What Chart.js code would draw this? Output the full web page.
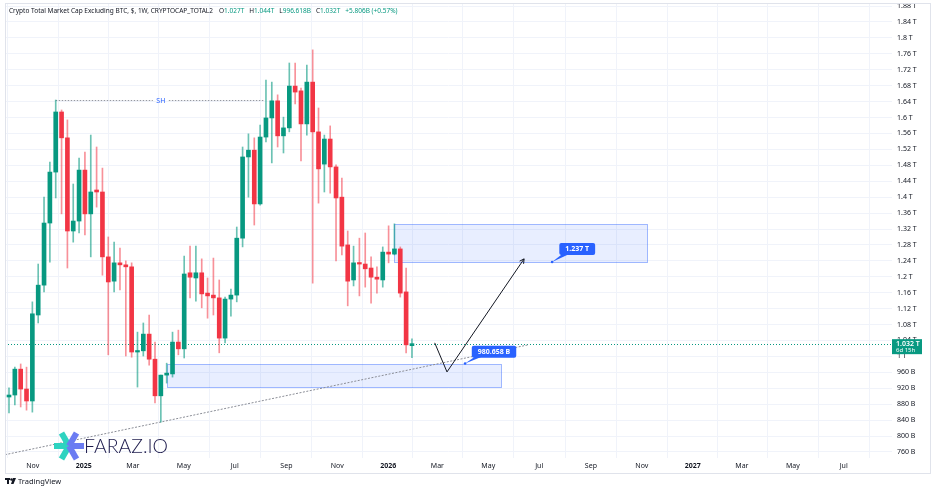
<!DOCTYPE html>
<html>
<head>
<meta charset="utf-8">
<title>TOTAL2 weekly</title>
<script src="https://cdn.jsdelivr.net/npm/chart.js@4.4.1/dist/chart.umd.min.js"></script>
<style>
  html, body { margin: 0; padding: 0; background: #fff; }
  #wrap { width: 936px; height: 492px; }
</style>
</head>
<body>
<div id="wrap"><canvas id="chart" width="936" height="492"></canvas></div>
<script>
// weekly candles, values in billions of USD, first bar = week of 2024-09-30
const firstWeek = '2024-09-30';
const opens = [898, 903, 968, 918, 888, 1104, 1179, 1335, 1463, 1614, 1549, 1315, 1340, 1468, 1358, 1418, 1413, 1250, 1189, 1235,
  1230, 1225, 1011, 1014, 1056, 993, 901, 953, 956, 1036, 1019, 1210, 1197, 1210, 1159, 1154, 1147, 1046, 1144, 1154,
  1297, 1501, 1518, 1383, 1551, 1599, 1642, 1554, 1574, 1679, 1667, 1584, 1689, 1564, 1483, 1546, 1476, 1400, 1280, 1192,
  1235, 1232, 1222, 1199, 1192, 1262, 1257, 1270, 1162, 1027];
const highs = [921, 973, 981, 973, 1137, 1232, 1400, 1488, 1644, 1619, 1594, 1433, 1498, 1513, 1556, 1526, 1473, 1300, 1287, 1272,
  1240, 1235, 1061, 1084, 1104, 1036, 953, 983, 1061, 1066, 1252, 1277, 1277, 1245, 1197, 1247, 1192, 1149, 1169, 1325,
  1526, 1559, 1549, 1581, 1694, 1689, 1657, 1601, 1737, 1737, 1674, 1732, 1770, 1624, 1556, 1579, 1481, 1448, 1315, 1277,
  1297, 1310, 1250, 1225, 1275, 1328, 1333, 1275, 1222, 1044];
const lows = [858, 878, 873, 865, 860, 1084, 1162, 1237, 1398, 1358, 1222, 1287, 1310, 1305, 1250, 1375, 1204, 1004, 1162, 1167,
  1001, 998, 923, 1001, 978, 883, 835, 933, 948, 1004, 996, 1147, 1139, 1122, 1096, 1104, 1009, 1034, 1101, 1137,
  1275, 1400, 1330, 1380, 1539, 1486, 1526, 1511, 1564, 1634, 1491, 1556, 1184, 1385, 1413, 1410, 1240, 1255, 1127, 1177,
  1152, 1174, 1134, 1159, 1174, 1235, 1255, 1149, 1009, 996.6];
const closes = [903, 968, 918, 888, 1107, 1179, 1335, 1463, 1614, 1549, 1315, 1340, 1468, 1358, 1413, 1413, 1250, 1187, 1235, 1230,
  1225, 1011, 1014, 1056, 993, 901, 953, 958, 1036, 1019, 1207, 1199, 1210, 1157, 1152, 1147, 1046, 1144, 1154, 1297,
  1501, 1518, 1383, 1551, 1599, 1642, 1554, 1574, 1679, 1664, 1584, 1689, 1564, 1471, 1546, 1476, 1398, 1277, 1189, 1235,
  1232, 1220, 1199, 1194, 1262, 1257, 1270, 1159, 1029, 1032];

const yTicks = [760, 800, 840, 880, 920, 960, 1000, 1040, 1080, 1120, 1160, 1200, 1240, 1280, 1320, 1360,
  1400, 1440, 1480, 1520, 1560, 1600, 1640, 1680, 1720, 1760, 1800, 1840, 1880];
const xTickDates = ['2024-11-01', '2025-01-01', '2025-03-01', '2025-05-01', '2025-07-01', '2025-09-01', '2025-11-01',
  '2026-01-01', '2026-03-01', '2026-05-01', '2026-07-01', '2026-09-01', '2026-11-01', '2027-01-01', '2027-03-01',
  '2027-05-01', '2027-07-01'];
const xTickLabels = ['Nov', '2025', 'Mar', 'May', 'Jul', 'Sep', 'Nov', '2026', 'Mar', 'May', 'Jul', 'Sep', 'Nov',
  '2027', 'Mar', 'May', 'Jul'];

const lastPrice = 1032;
const lastPriceText = '1.032 T';
const countdownText = '6d 15h';
const legendTitle = 'Crypto Total Market Cap Excluding BTC, $, 1W, CRYPTOCAP_TOTAL2';
const legendOHLC = [['O', '1.027T'], ['H', '1.044T'], ['L', '996.618B'], ['C', '1.032T']];
const legendChange = '+5.806B (+0.57%)';

// drawings (x in weeks from firstWeek, y in billions)
const swingHigh = { level: 1644, from: 8, to: 43.8, labelAt: 26, text: 'SH' };
const zoneUpper = { from: 66, to: 109.2, top: 1333, bottom: 1237 };
const zoneLower = { from: 27.05, to: 84.2, top: 982, bottom: 922 };
const trendLine = [[-0.7, 753], [88.9, 1029]];
const arrowPath = [[72.9, 1034], [75.0, 961], [88.2, 1245]];
const callouts = [
  { text: '1.237 T', anchor: [93.0, 1237], box: [97.3, 1270] },
  { text: '980.658 B', anchor: [78.1, 982], box: [83.05, 1012] }
];

const GREEN = '#089981';
const RED = '#f23645';
const FONT = '"Noto Sans", "DejaVu Sans", sans-serif';

function weekIndex(d) {
  return (Date.parse(d) - Date.parse(firstWeek)) / (7 * 86400000);
}
function isUp(i) { return closes[i] >= opens[i]; }
function fmtPrice(v) {
  return v >= 1000 ? (v / 1000) + ' T' : v + ' B';
}

const wickData = opens.map((o, i) => ({ x: i, y: [lows[i], highs[i]] }));
const bodyData = opens.map((o, i) => ({ x: i, y: [o, closes[i]] }));

const overlay = {
  id: 'overlay',
  beforeDatasetsDraw(chart) {
    const { ctx, chartArea: a, scales: { x, y } } = chart;
    ctx.save();
    ctx.beginPath();
    ctx.rect(a.left, a.top, a.right - a.left, a.bottom - a.top);
    ctx.clip();

    // zones
    [zoneUpper, zoneLower].forEach(z => {
      const l = Math.round(x.getPixelForValue(z.from)) + 0.5;
      const r = Math.round(x.getPixelForValue(z.to)) + 0.5;
      const t = Math.round(y.getPixelForValue(z.top)) + 0.5;
      const b = Math.round(y.getPixelForValue(z.bottom)) + 0.5;
      ctx.fillStyle = 'rgba(41,98,255,0.11)';
      ctx.fillRect(l, t, r - l, b - t);
      ctx.strokeStyle = 'rgba(41,98,255,0.42)';
      ctx.lineWidth = 1;
      ctx.strokeRect(l, t, r - l, b - t);
    });

    // last price line
    const py = Math.round(y.getPixelForValue(lastPrice)) + 0.5;
    ctx.strokeStyle = GREEN;
    ctx.setLineDash([1, 2]);
    ctx.beginPath();
    ctx.moveTo(a.left, py);
    ctx.lineTo(a.right, py);
    ctx.stroke();

    // trend line
    ctx.strokeStyle = '#8a8d96';
    ctx.setLineDash([2, 1.5]);
    ctx.beginPath();
    ctx.moveTo(x.getPixelForValue(trendLine[0][0]), y.getPixelForValue(trendLine[0][1]));
    ctx.lineTo(x.getPixelForValue(trendLine[1][0]), y.getPixelForValue(trendLine[1][1]));
    ctx.stroke();

    // swing high
    const sy = Math.round(y.getPixelForValue(swingHigh.level)) + 0.5;
    const sx1 = x.getPixelForValue(swingHigh.from);
    const sx2 = x.getPixelForValue(swingHigh.to);
    const sl = x.getPixelForValue(swingHigh.labelAt);
    ctx.strokeStyle = '#9598a1';
    ctx.setLineDash([1.5, 1.5]);
    ctx.beginPath();
    ctx.moveTo(sx1, sy); ctx.lineTo(sl - 8, sy);
    ctx.moveTo(sl + 8, sy); ctx.lineTo(sx2, sy);
    ctx.stroke();
    ctx.setLineDash([]);
    ctx.fillStyle = '#2962ff';
    ctx.font = '7px ' + FONT;
    ctx.textAlign = 'center';
    ctx.textBaseline = 'middle';
    ctx.fillText(swingHigh.text, sl, sy);
    ctx.restore();
  },
  afterDatasetsDraw(chart) {
    const { ctx, scales: { x, y } } = chart;
    ctx.save();
    // arrow path
    const pts = arrowPath.map(p => [x.getPixelForValue(p[0]), y.getPixelForValue(p[1])]);
    ctx.strokeStyle = '#131722';
    ctx.lineWidth = 1;
    ctx.beginPath();
    ctx.moveTo(pts[0][0], pts[0][1]);
    for (let i = 1; i < pts.length; i++) ctx.lineTo(pts[i][0], pts[i][1]);
    ctx.stroke();
    const e = pts[pts.length - 1], s = pts[pts.length - 2];
    const ang = Math.atan2(e[1] - s[1], e[0] - s[0]);
    ctx.beginPath();
    ctx.moveTo(e[0] - 5 * Math.cos(ang - 0.5), e[1] - 5 * Math.sin(ang - 0.5));
    ctx.lineTo(e[0], e[1]);
    ctx.lineTo(e[0] - 5 * Math.cos(ang + 0.5), e[1] - 5 * Math.sin(ang + 0.5));
    ctx.stroke();

    // callouts
    ctx.font = 'bold 7px ' + FONT;
    ctx.textAlign = 'center';
    ctx.textBaseline = 'middle';
    callouts.forEach(c => {
      const ax = x.getPixelForValue(c.anchor[0]), ay = y.getPixelForValue(c.anchor[1]);
      const bx = x.getPixelForValue(c.box[0]), by = y.getPixelForValue(c.box[1]);
      const w = ctx.measureText(c.text).width + 12, h = 12;
      const l = bx - w / 2, t = by - h / 2;
      ctx.fillStyle = '#2962ff';
      ctx.beginPath();
      ctx.moveTo(l + 3, t + h - 1);
      ctx.lineTo(ax, ay);
      ctx.lineTo(l + 10, t + h - 1);
      ctx.closePath();
      ctx.fill();
      ctx.beginPath();
      ctx.roundRect(l, t, w, h, 2);
      ctx.fill();
      ctx.beginPath();
      ctx.arc(ax, ay, 1.3, 0, Math.PI * 2);
      ctx.fill();
      ctx.fillStyle = '#fff';
      ctx.fillText(c.text, bx, by + 0.5);
    });
    ctx.restore();
  },
  afterDraw(chart) {
    const { ctx, chartArea: a, scales: { y } } = chart;
    ctx.save();
    // last price tag on the axis
    const py = y.getPixelForValue(lastPrice);
    ctx.fillStyle = GREEN;
    ctx.fillRect(a.right, py - 4.5, 30, 15);
    ctx.fillStyle = '#fff';
    ctx.textAlign = 'left';
    ctx.textBaseline = 'middle';
    ctx.font = '600 7px ' + FONT;
    ctx.fillText(lastPriceText, a.right + 4, py);
    ctx.font = '6px ' + FONT;
    ctx.fillText(countdownText, a.right + 4, py + 7);

    // legend line
    let lx = 9;
    const ly = 11;
    ctx.font = '6.5px ' + FONT;
    ctx.fillStyle = '#131722';
    ctx.fillText(legendTitle, lx, ly);
    lx += ctx.measureText(legendTitle).width + 6;
    legendOHLC.forEach(p => {
      ctx.fillStyle = '#131722';
      ctx.fillText(p[0], lx, ly);
      lx += ctx.measureText(p[0]).width;
      ctx.fillStyle = GREEN;
      ctx.fillText(p[1], lx, ly);
      lx += ctx.measureText(p[1]).width + 5;
    });
    ctx.fillStyle = GREEN;
    ctx.fillText(legendChange, lx, ly);

    // watermark logo
    const cx = 69, cy = 446, arm = 15;
    ctx.lineWidth = 6;
    ctx.lineCap = 'butt';
    [[Math.PI, '#2ed3c0'], [Math.PI * 4 / 3, '#2ed3c0'], [Math.PI * 2 / 3, '#2ed3c0'],
     [0, '#6b7cf2'], [-Math.PI / 3, '#6b7cf2'], [Math.PI / 3, '#6b7cf2']].forEach(r => {
      ctx.strokeStyle = r[1];
      ctx.beginPath();
      ctx.moveTo(cx, cy);
      ctx.lineTo(cx + arm * Math.cos(r[0]), cy + arm * Math.sin(r[0]));
      ctx.stroke();
    });
    ctx.fillStyle = '#1d1b4c';
    ctx.font = '300 19.5px Lato, ' + FONT;
    ctx.textBaseline = 'alphabetic';
    ctx.fillText('FARAZ.IO', 84, 453);

    // frame
    ctx.lineWidth = 1;
    ctx.strokeStyle = '#e0e3eb';
    ctx.strokeRect(5.5, 3.5, 925, 470);

    // footer
    ctx.fillStyle = '#131722';
    ctx.fillRect(5, 478, 5, 2);
    ctx.fillRect(7, 478, 2, 6);
    ctx.beginPath();
    ctx.arc(11.5, 479.5, 1.3, 0, Math.PI * 2);
    ctx.fill();
    ctx.beginPath();
    ctx.moveTo(13, 478); ctx.lineTo(16, 478); ctx.lineTo(13.5, 484); ctx.lineTo(11, 484);
    ctx.closePath();
    ctx.fill();
    ctx.font = '7.5px ' + FONT;
    ctx.textBaseline = 'middle';
    ctx.fillText('TradingView', 18, 481.5);
    ctx.restore();
  }
};

new Chart(document.getElementById('chart'), {
  type: 'bar',
  data: {
    datasets: [
      {
        label: 'wick',
        data: wickData,
        backgroundColor: c => isUp(c.dataIndex) ? 'rgba(8,153,129,0.6)' : 'rgba(242,54,69,0.55)',
        barThickness: 1,
        grouped: false,
        borderWidth: 0
      },
      {
        label: 'body',
        data: bodyData,
        backgroundColor: c => isUp(c.dataIndex) ? GREEN : RED,
        barThickness: 4,
        minBarLength: 1.5,
        grouped: false,
        borderWidth: 0
      }
    ]
  },
  options: {
    responsive: false,
    animation: false,
    devicePixelRatio: 1,
    events: [],
    layout: { padding: { left: 5, top: 4, right: 6, bottom: 19 } },
    plugins: { legend: { display: false }, tooltip: { enabled: false } },
    scales: {
      x: {
        type: 'linear',
        offset: false,
        min: -0.685,
        max: 151.2,
        afterBuildTicks: s => { s.ticks = xTickDates.map(d => ({ value: weekIndex(d) - 0.5 })); },
        afterFit: s => { s.height = 15; s.paddingLeft = 0; s.paddingRight = 0; },
        border: { display: false },
        grid: { color: '#f0f3fa', drawTicks: false },
        ticks: {
          autoSkip: false,
          maxRotation: 0,
          padding: 4,
          color: '#131722',
          font: c => ({ family: FONT, size: 7, weight: /^\d{4}$/.test(c.tick ? c.tick.label : '') ? 'bold' : 'normal' }),
          callback: (v, i) => xTickLabels[i]
        }
      },
      y: {
        position: 'right',
        min: 744.8,
        max: 1885.2,
        afterBuildTicks: s => { s.ticks = yTicks.map(v => ({ value: v })); },
        afterFit: s => { s.width = 38; s.paddingTop = 0; s.paddingBottom = 0; },
        border: { display: false },
        grid: { color: '#f0f3fa', drawTicks: false },
        ticks: {
          padding: 5,
          color: '#131722',
          font: { family: FONT, size: 7 },
          callback: v => fmtPrice(v)
        }
      }
    }
  },
  plugins: [overlay]
});
</script>
</body>
</html>
